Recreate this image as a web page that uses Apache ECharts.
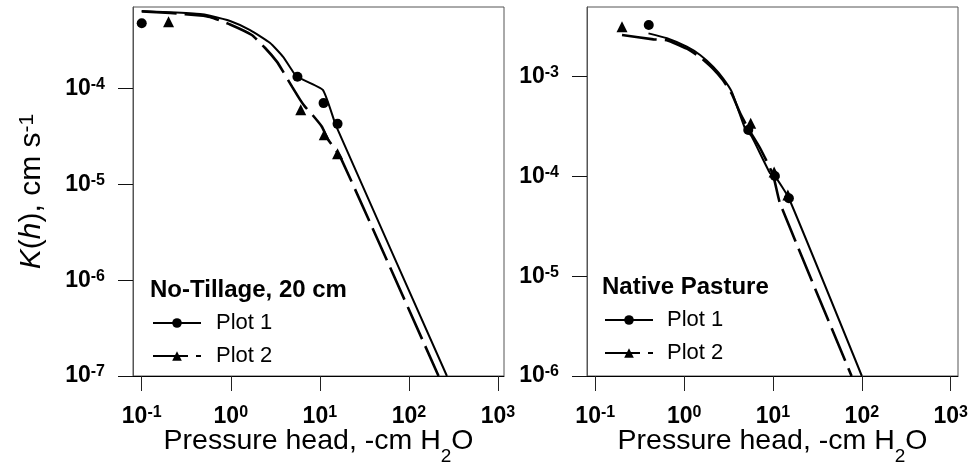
<!DOCTYPE html>
<html>
<head>
<meta charset="utf-8">
<script src="https://cdn.jsdelivr.net/npm/echarts@6/dist/echarts.min.js"></script>
<style>html,body{margin:0;padding:0;background:#fff}#c{width:970px;height:469px}</style>
</head>
<body>
<div id="c"></div>
<script>
// ---------- tick values ----------
const xTicks = [0.1, 1, 10, 100, 1000];
const ntYTicks = [1e-7, 1e-6, 1e-5, 1e-4];
const npYTicks = [1e-6, 1e-5, 1e-4, 1e-3];

// ---------- No-Tillage, 20 cm : fitted curves ----------
const ntFit1H = [0.1, 0.208, 0.452, 0.585, 0.982, 1.648, 2.765, 3.87, 5.01, 5.6, 10.8, 15.2, 267];
const ntFit1K = [6.44e-4, 6.25e-4, 6.0e-4, 5.75e-4, 5.07e-4, 4.08e-4, 2.99e-4, 2.14e-4, 1.49e-4, 1.32e-4, 9.69e-5, 4.08e-5, 1e-7];
const ntFit2H = [0.1, 0.208, 0.452, 0.585, 0.982, 1.722, 2.43, 3.29, 3.87, 4.89, 6.01, 6.84, 8.41, 10.5, 12.4, 16.9, 215];
const ntFit2K = [6.37e-4, 6.15e-4, 5.80e-4, 5.58e-4, 4.67e-4, 3.62e-4, 2.65e-4, 1.91e-4, 1.50e-4, 1.04e-4, 7.62e-5, 6.44e-5, 5.20e-5, 4.02e-5, 2.92e-5, 1.95e-5, 1e-7];
// measured points
const ntObs1H = [0.1, 5.6, 11, 15.8];
const ntObs1K = [4.8e-4, 1.33e-4, 7.05e-5, 4.28e-5];
const ntObs2H = [0.2, 6.1, 11.2, 15.8];
const ntObs2K = [4.99e-4, 6.0e-5, 3.3e-5, 2.09e-5];

// ---------- Native Pasture : fitted curves ----------
const npFit1H = [0.397, 0.640, 1.072, 1.513, 2.12, 2.74, 3.43, 4.84, 5.76, 9.25, 10.5, 15.1, 100];
const npFit1K = [2.72e-3, 2.43e-3, 2.0e-3, 1.65e-3, 1.26e-3, 9.64e-4, 7.08e-4, 3.04e-4, 2.51e-4, 1.08e-4, 1.01e-4, 6.05e-5, 1e-6];
const npFit2H = [0.2, 0.452, 0.640, 1.072, 1.513, 2.12, 2.74, 3.43, 4.26, 5.23, 7.14, 10.0, 12.0, 76.6];
const npFit2K = [2.62e-3, 2.37e-3, 2.32e-3, 1.91e-3, 1.57e-3, 1.20e-3, 9.20e-4, 6.76e-4, 4.33e-4, 3.06e-4, 1.93e-4, 1.04e-4, 5.38e-5, 1e-6];
// measured points
const npObs1H = [0.4, 5.27, 10.5, 15.1];
const npObs1K = [3.30e-3, 2.92e-4, 1.01e-4, 6.05e-5];
const npObs2H = [0.2, 5.61, 10.3, 14.7];
const npObs2K = [3.17e-3, 3.41e-4, 1.11e-4, 6.53e-5];

const legendNames = ['Plot 1', 'Plot 2'];
const panelTitles = ['No-Tillage, 20 cm', 'Native Pasture'];

// ---------- helpers ----------
const FONT = '"Liberation Sans", Arial, sans-serif';
function pairs(h, k) { return h.map((v, i) => [v, k[i]]); }
function powLabel(v) {
  const e = Math.round(Math.log10(v));
  return '{b|10}{s|' + (e < 0 ? '-' + (-e) : String(e)) + '}';
}
const labelRich = {
  b: { fontSize: 23, fontWeight: 'bold', fontFamily: FONT, color: '#000', lineHeight: 24 },
  s: { fontSize: 16, fontWeight: 'bold', fontFamily: FONT, color: '#000', lineHeight: 14, verticalAlign: 'top' }
};
const xNameRich = {
  n: { fontSize: 28.5, fontFamily: FONT, color: '#000', lineHeight: 30, verticalAlign: 'top' },
  sub: { fontSize: 19, fontFamily: FONT, color: '#000', lineHeight: 19, padding: [20, 0, 0, 0], verticalAlign: 'top' }
};
const yNameRich = {
  i: { fontSize: 30, fontStyle: 'italic', fontFamily: FONT, color: '#000', lineHeight: 30 },
  n: { fontSize: 30, fontFamily: FONT, color: '#000', lineHeight: 30 },
  s: { fontSize: 21, fontFamily: FONT, color: '#000', lineHeight: 21, verticalAlign: 'top' }
};

function xAxisCfg(idx, min, max) {
  return {
    type: 'log', gridIndex: idx, min: min, max: max,
    axisLine: { show: true, lineStyle: { color: '#000', width: 1 } },
    axisTick: { show: true, inside: false, length: 15, customValues: xTicks, lineStyle: { color: '#222', width: 1 } },
    axisLabel: { show: true, customValues: xTicks, formatter: powLabel, rich: labelRich, margin: 29 },
    splitLine: { show: false }, minorTick: { show: false }, minorSplitLine: { show: false },
    name: '{n|Pressure head, -cm H}{sub|2}{n|O}',
    nameLocation: 'middle', nameGap: 51, nameMoveOverlap: false,
    nameTextStyle: { rich: xNameRich }
  };
}
function yAxisCfg(idx, min, max, ticks, withName) {
  const cfg = {
    type: 'log', gridIndex: idx, min: min, max: max,
    axisLine: { show: true, lineStyle: { color: '#555', width: 1 } },
    axisTick: { show: true, inside: false, length: 15, customValues: ticks, lineStyle: { color: '#111', width: 1 } },
    axisLabel: { show: true, customValues: ticks, formatter: powLabel, rich: labelRich, margin: 28 },
    splitLine: { show: false }, minorTick: { show: false }, minorSplitLine: { show: false }
  };
  if (withName) {
    cfg.name = '{i|K}{n|(}{i|h}{n|), cm s}{s|-1}';
    cfg.nameLocation = 'middle';
    cfg.nameGap = 86;
    cfg.nameRotate = 90;
    cfg.nameMoveOverlap = false;
    cfg.nameTextStyle = { rich: yNameRich };
  }
  return cfg;
}
function lineSeries(name, xi, h, k, dashed) {
  return {
    type: 'line', name: name, xAxisIndex: xi, yAxisIndex: xi,
    data: pairs(h, k), symbol: dashed ? 'triangle' : 'circle', showSymbol: false,
    smooth: 0.15,
    lineStyle: { color: '#000', width: dashed ? 2.6 : 2, type: dashed ? [35, 8] : 'solid' },
    itemStyle: { color: '#000', opacity: 1 }, silent: true, z: 2
  };
}
function obsSeries(name, xi, h, k, tri) {
  return {
    type: 'scatter', name: name, xAxisIndex: xi, yAxisIndex: xi,
    data: pairs(h, k), symbol: tri ? 'triangle' : 'circle', symbolSize: tri ? 11 : 10,
    itemStyle: { color: '#000', opacity: 1 }, silent: true, z: 3
  };
}
function legendCfg(left, top, pad) {
  return {
    data: legendNames, orient: 'vertical', left: left, top: top, padding: 0,
    itemWidth: 48, itemHeight: 12, itemGap: 11, selectedMode: false,
    textStyle: { fontSize: 22, fontFamily: FONT, color: '#000', lineHeight: 22, padding: [0, 0, 0, pad] }
  };
}
function titleCfg(text, left, top) {
  return {
    text: text, left: left, top: top, padding: 0,
    textStyle: { fontSize: 24, fontWeight: 'bold', fontFamily: FONT, color: '#000' }
  };
}

const chart = echarts.init(document.getElementById('c'), null, { renderer: 'canvas' });
chart.setOption({
  animation: false,
  backgroundColor: '#fff',
  textStyle: { fontFamily: FONT },
  title: [titleCfg(panelTitles[0], 150, 278), titleCfg(panelTitles[1], 602, 275)],
  legend: [legendCfg(152, 312, 10), legendCfg(604, 309, 9)],
  grid: [
    { left: 133, top: 7, width: 371, height: 369, show: true, borderColor: '#555', borderWidth: 1, containLabel: false, outerBoundsMode: 'none' },
    { left: 587, top: 7, width: 371, height: 369, show: true, borderColor: '#555', borderWidth: 1, containLabel: false, outerBoundsMode: 'none' }
  ],
  xAxis: [xAxisCfg(0, 0.0798, 1168), xAxisCfg(1, 0.0807, 1208)],
  yAxis: [yAxisCfg(0, 1e-7, 7.1e-4, ntYTicks, true), yAxisCfg(1, 1e-6, 5e-3, npYTicks, false)],
  series: [
    lineSeries(legendNames[0], 0, ntFit1H, ntFit1K, false),
    lineSeries(legendNames[1], 0, ntFit2H, ntFit2K, true),
    lineSeries(legendNames[0], 1, npFit1H, npFit1K, false),
    lineSeries(legendNames[1], 1, npFit2H, npFit2K, true),
    obsSeries(legendNames[0], 0, ntObs1H, ntObs1K, false),
    obsSeries(legendNames[1], 0, ntObs2H, ntObs2K, true),
    obsSeries(legendNames[0], 1, npObs1H, npObs1K, false),
    obsSeries(legendNames[1], 1, npObs2H, npObs2K, true)
  ]
});
</script>
</body>
</html>
